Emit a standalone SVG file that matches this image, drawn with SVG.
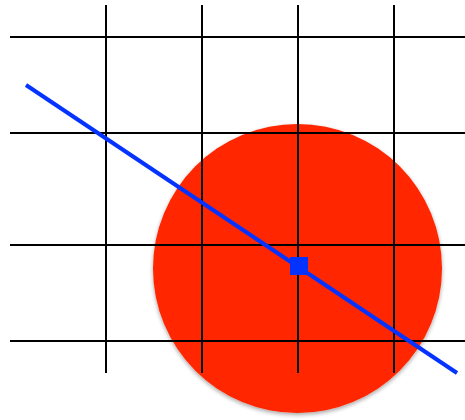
<svg xmlns="http://www.w3.org/2000/svg" width="465" height="420" viewBox="0 0 465 420">
<defs>
<style>
.grid{stroke:#000;stroke-width:2;fill:none}
.blue{stroke:#0433FF;stroke-width:4;fill:none;stroke-linecap:butt}
</style>
<filter id="sh" x="-10%" y="-10%" width="120%" height="125%">
<feGaussianBlur in="SourceAlpha" stdDeviation="2"/>
<feOffset dx="0" dy="2" result="b"/>
<feComponentTransfer><feFuncA type="linear" slope="0.35"/></feComponentTransfer>
<feMerge><feMergeNode/><feMergeNode in="SourceGraphic"/></feMerge>
</filter>
</defs>
<rect width="465" height="420" fill="#fff"/>
<g id="circle"><circle cx="297.5" cy="268.5" r="144.5" fill="#FF2600" filter="url(#sh)"/></g>
<g id="grid" class="grid">
<line x1="106" y1="5" x2="106" y2="373"/>
<line x1="202" y1="5" x2="202" y2="373"/>
<line x1="298" y1="5" x2="298" y2="373"/>
<line x1="394" y1="5" x2="394" y2="373"/>
<line x1="10" y1="37" x2="465" y2="37"/>
<line x1="10" y1="133" x2="465" y2="133"/>
<line x1="10" y1="245" x2="465" y2="245"/>
<line x1="10" y1="341" x2="465" y2="341"/>
</g>
<g id="connectors"><line class="blue" x1="26" y1="85" x2="457" y2="373"/></g>
<g id="point"><rect x="290" y="257" width="18" height="18" fill="#0433FF"/></g>
</svg>
